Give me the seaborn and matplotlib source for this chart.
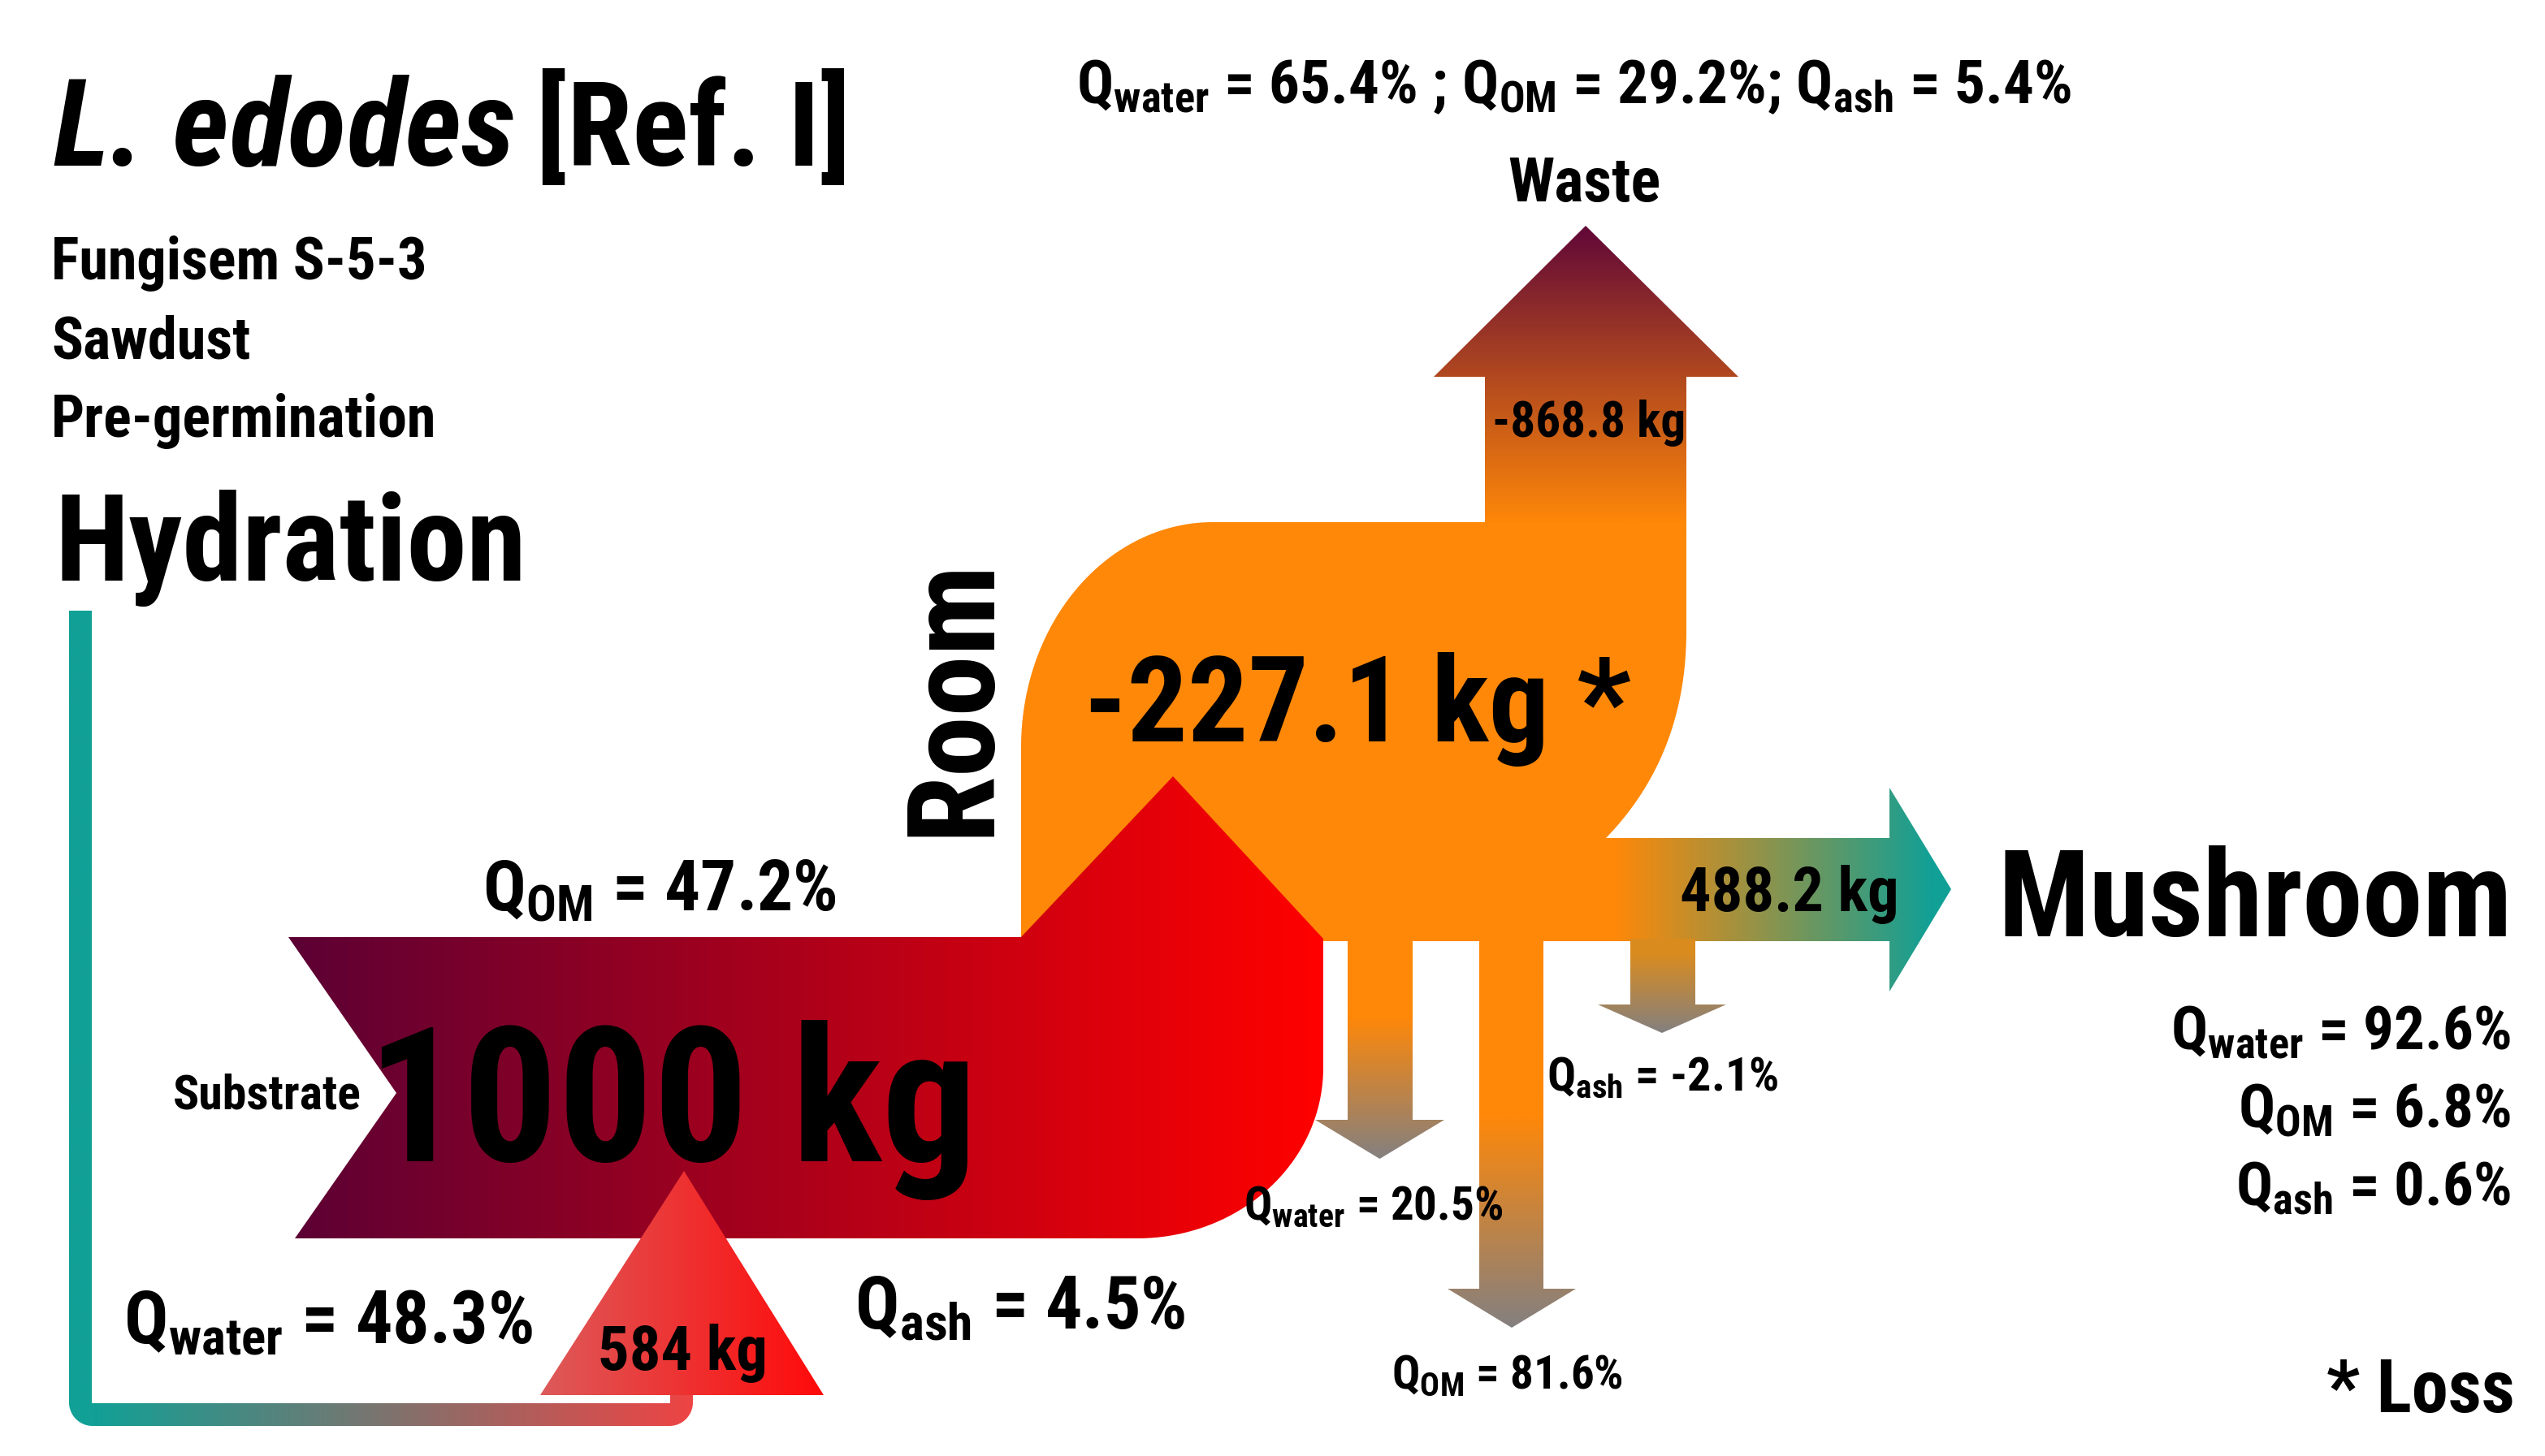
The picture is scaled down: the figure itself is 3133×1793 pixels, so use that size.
import matplotlib
matplotlib.use("Agg")
import matplotlib.pyplot as plt
from matplotlib import font_manager
from matplotlib.path import Path
from matplotlib.patches import PathPatch
import numpy as np
import seaborn as sns

# ---- values shown on the chart ----
substrate_kg = 1000
hydration_kg = 584
room_loss_kg = -227.1
waste_kg = -868.8
mushroom_kg = 488.2

q_names = ["water", "OM", "ash"]
substrate_q = [48.3, 47.2, 4.5]
waste_q = [65.4, 29.2, 5.4]
mushroom_q = [92.6, 6.8, 0.6]
room_q = [20.5, 81.6, -2.1]

header_lines = ["Fungisem S-5-3", "Sawdust", "Pre-germination"]

# ---- style ----
sns.set_theme(style="white")
names = {f.name for f in font_manager.fontManager.ttflist}
FONT = next((f for f in ["Roboto Condensed", "Liberation Sans Narrow", "PT Sans Narrow"] if f in names),
            "DejaVu Sans")
plt.rcParams["font.family"] = [FONT, "DejaVu Sans"]
plt.rcParams["mathtext.default"] = "regular"
plt.rcParams["text.color"] = "black"

ORANGE = "#ff8808"
TEAL = "#11a096"
GREY = "#848080"

W, H = 3133, 1793
fig = plt.figure(figsize=(W / 100, H / 100), dpi=100)
ax = fig.add_axes([0, 0, 1, 1])


def arc(cx, cy, rx, ry, t0, t1, n=60):
    t = np.linspace(t0, t1, n)
    return list(zip(cx + rx * np.cos(t), cy + ry * np.sin(t)))


def bezier(p0, p1, p2, n=40):
    t = np.linspace(0, 1, n)[:, None]
    p0, p1, p2 = map(np.array, (p0, p1, p2))
    pts = (1 - t) ** 2 * p0 + 2 * (1 - t) * t * p1 + t ** 2 * p2
    return [tuple(p) for p in pts]


def shape(points, z, color=None):
    patch = PathPatch(Path(points + [points[0]], closed=True),
                      facecolor=color if color else "none", edgecolor="none", zorder=z)
    ax.add_patch(patch)
    return patch


def gradient(points, c_from, c_to, start, stop, axis, z):
    """Fill a polygon with a linear gradient between start and stop (pixel coords)."""
    patch = shape(points, z)
    pts = np.array(points)
    cmap = sns.blend_palette([c_from, c_to], n_colors=256, as_cmap=True)
    x0, x1 = pts[:, 0].min() - 2, pts[:, 0].max() + 2
    y0, y1 = pts[:, 1].min() - 2, pts[:, 1].max() + 2
    if axis == "x":
        c = np.linspace(x0, x1, 600)
        img = cmap(np.clip((c - start) / (stop - start), 0, 1))[None, :, :]
    else:
        c = np.linspace(y0, y1, 600)
        img = cmap(np.clip((c - start) / (stop - start), 0, 1))[:, None, :]
    im = ax.imshow(img, extent=(x0, x1, y0, y1), origin="lower", aspect="auto",
                   interpolation="bilinear", zorder=z)
    im.set_clip_path(patch)
    return cmap


# ---- room body (orange) ----
body = [(1257, 1159), (1257, 920)] + arc(1493, 920, 236, 277, np.pi, 1.5 * np.pi) \
    + [(2076, 643), (2076, 777)] + bezier((2076, 777), (2076, 930), (1977, 1032)) \
    + [(1977, 1159)]
shape(body, 1, ORANGE)

# waste arrow (up)
waste = [(1828, 655), (1828, 464), (1765, 464), (1952, 278), (2140, 464), (2076, 464), (2076, 655)]
gradient(waste, "#640a37", ORANGE, 285, 645, "y", 1)

# mushroom arrow (right)
mush = [(1965, 1032), (2326, 1032), (2326, 970), (2402, 1095), (2326, 1221), (2326, 1159), (1965, 1159)]
mush_cmap = gradient(mush, ORANGE, TEAL, 1985, 2380, "x", 1)

# loss arrows (down): stem x0, x1, head x0, x1, head base y, tip y, gradient start fraction
down = [(1659, 1739, 1619, 1778, 1379, 1427, 0.35),
        (1821, 1900, 1782, 1940, 1587, 1635, 0.45),
        (2007, 2087, 1967, 2125, 1237, 1272, 0.15)]
for sx0, sx1, hx0, hx1, hb, tip, frac in down:
    top = 1156
    pts = [(sx0, top), (sx1, top), (sx1, hb), (hx1, hb), ((hx0 + hx1) / 2, tip), (hx0, hb), (sx0, hb)]
    t = np.clip(((sx0 + sx1) / 2 - 1985) / (2380 - 1985), 0, 1)
    c_top = mush_cmap(t) if sx0 > 1990 else ORANGE
    gradient(pts, c_top, GREY, top + frac * (tip - top), tip, "y", 1)

# ---- substrate ----
sub = [(355, 1154), (1257, 1154), (1444, 956), (1629, 1156), (1629, 1315)] \
    + arc(1400, 1315, 229, 210, 0, 0.5 * np.pi) + [(363, 1525), (488, 1346)]
gradient(sub, "#5c0034", "#ff0000", 355, 1629, "x", 2)

# ---- hydration line ----
r = 15
cl = [(99, 752)] + arc(99 + r, 1742 - r, r, r, np.pi, 0.5 * np.pi, 30) \
    + arc(839 - r, 1742 - r, r, r, 0.5 * np.pi, 0, 30) + [(839, 1705)]
cl = np.array(cl)
dense = [cl[0]]
for a, b in zip(cl[:-1], cl[1:]):
    n = max(2, int(np.hypot(*(b - a)) / 4))
    dense.extend(np.linspace(a, b, n)[1:])
dense = np.array(dense)
tan = np.gradient(dense, axis=0)
tan /= np.linalg.norm(tan, axis=1)[:, None]
nrm = np.column_stack([-tan[:, 1], tan[:, 0]])
half = 14
outline = np.vstack([dense + half * nrm, (dense - half * nrm)[::-1]])
gradient([tuple(p) for p in outline], TEAL, "#ee4444", 113, 853, "x", 2)

# ---- hydration input triangle ----
tri = [(665, 1718), (842, 1442), (1014, 1718)]
gradient(tri, "#dd5a5a", "#ff0a0a", 665, 1014, "x", 3)


# ---- text ----
def label(x, y, s, size, ha="left", **kw):
    ax.text(x, y, s, fontsize=size, ha=ha, va="baseline", fontweight="bold",
            color="black", zorder=6, **kw)


def q(name, v):
    return rf"$Q_{{{name}}}$ = {v}%"


label(66, 204, "L. edodes", 108, fontstyle="italic")
label(660, 204, "[Ref. I]", 104)
for i, line in enumerate(header_lines):
    label(63, 344 + i * 97, line, 52)
label(67, 715, "Hydration", 107)

label(1325, 127, f"{q('water', waste_q[0])} ; {q('OM', waste_q[1])}; {q('ash', waste_q[2])}", 54)
label(1950, 248, "Waste", 55, ha="center")
label(1956, 538, f"{waste_kg} kg", 44, ha="center")
label(1334, 913, f"{room_loss_kg} kg *", 106)
ax.text(1216, 858, "Room", fontsize=108, rotation=90, rotation_mode="anchor",
        ha="center", va="baseline", fontweight="bold", color="black", zorder=6)

label(452, 1430, f"{substrate_kg} kg", 167)
label(445, 1365, "Substrate", 43, ha="right")
label(594, 1122, q("OM", substrate_q[1]), 63)
label(152, 1654, q("water", substrate_q[0]), 65)
label(840, 1687, f"{hydration_kg} kg", 55, ha="center")
label(1052, 1636, q("ash", substrate_q[2]), 65)

label(1531, 1502, q("water", room_q[0]), 41)
label(1713, 1710, q("OM", room_q[1]), 41)
label(1904, 1343, q("ash", room_q[2]), 42)

label(2068, 1122, f"{mushroom_kg} kg", 55)
label(2459, 1153, "Mushroom", 107)
for i, (n, v) in enumerate(zip(q_names, mushroom_q)):
    label(3091, 1292 + i * 96, q(n, v), 54, ha="right")
label(3096, 1739, "* Loss", 65, ha="right")

ax.set_xlim(0, W)
ax.set_ylim(H, 0)
ax.axis("off")
fig.savefig("out.png", dpi=100, facecolor="white")
